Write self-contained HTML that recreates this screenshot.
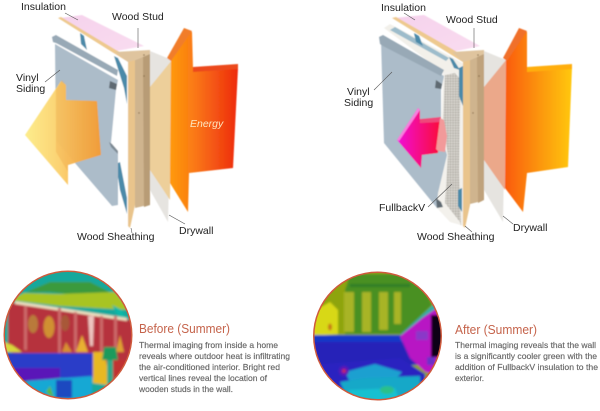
<!DOCTYPE html>
<html><head><meta charset="utf-8"><style>
html,body{margin:0;padding:0;background:#fff;width:600px;height:411px;overflow:hidden}
svg{display:block}
text{font-family:"Liberation Sans",sans-serif}
.l{font-size:10.5px;fill:#222}
.b{font-size:8.4px;fill:#666;stroke:#666;stroke-width:.15}
.h{font-size:13px;fill:#c5644c}
</style></head><body>
<svg width="600" height="411" viewBox="0 0 600 411" xmlns="http://www.w3.org/2000/svg">
<defs>
<linearGradient id="r1" x1="0" x2="1" y1="0" y2="0"><stop offset="0" stop-color="#ff9a0a"/><stop offset=".35" stop-color="#fa7a14"/><stop offset="1" stop-color="#ee2a10"/></linearGradient>
<linearGradient id="y1" x1="0" x2="1" y1="0" y2="0"><stop offset="0" stop-color="#fdec86"/><stop offset=".45" stop-color="#fbd06c"/><stop offset="1" stop-color="#f59a30"/></linearGradient>
<linearGradient id="r2" x1="0" x2="1" y1="0" y2="0"><stop offset="0" stop-color="#fa5a0e"/><stop offset=".5" stop-color="#fc9408"/><stop offset="1" stop-color="#ffc808"/></linearGradient>
<linearGradient id="m" x1="0" x2="1" y1="0" y2="0"><stop offset="0" stop-color="#f010d8"/><stop offset="1" stop-color="#fa0a3c"/></linearGradient>
<linearGradient id="ins" x1="0" x2="1" y1="0" y2="1"><stop offset="0" stop-color="#f6d2ec"/><stop offset="1" stop-color="#f9dcf0"/></linearGradient>
<clipPath id="c1"><circle cx="68" cy="335" r="63"/></clipPath>
<clipPath id="c2"><circle cx="377.5" cy="336" r="63"/></clipPath>
<filter id="bl" x="-10%" y="-10%" width="120%" height="120%"><feGaussianBlur stdDeviation="1.1"/></filter>
<filter id="s" x="-5%" y="-5%" width="110%" height="110%"><feGaussianBlur stdDeviation=".4"/></filter>
<filter id="t"><feGaussianBlur stdDeviation=".25"/></filter>
<pattern id="foam" width="2.6" height="2.6" patternUnits="userSpaceOnUse"><rect width="2.6" height="2.6" fill="#c9c6bf"/><rect x=".2" y=".2" width="1" height="1" fill="#a5a199"/><rect x="1.4" y="1.4" width="1" height="1" fill="#e6e4de"/></pattern>
</defs>

<!-- LEFT wall -->
<g filter="url(#s)">
<polygon points="60,18 82,15 144,46 116,51" fill="url(#ins)"/>
<polygon points="58,18 61,17 116,50 135,60 131,64 115,54" fill="#eec98f"/>
<polygon points="57,21 115,54 128,62 128,226 119,207 57,140" fill="#fff"/>
<g fill="#4b8aa9"><polygon points="80,33 84,36 87,50 81,44"/><polygon points="114,56 118,58 127,76 127,104 124,88"/><polygon points="116,164 120,162 127,198 127,214 120,190"/></g>
<polygon points="55,44 118,80 116,90 111,143 118,151 118,205 112,206 56,141" fill="#acbcc9"/>
<polygon points="52,37 56,35 118,70 117,76 56,43 53,42" fill="#98a9b6"/>
<polygon points="110,81 117,84 116,90 109,88" fill="#5f6a72"/>
<polygon points="109,142 112,144 118,151 118,154 111,147" fill="#7e8a94"/>
<polygon points="128,62 135,60 135,205 130,228 128,226" fill="#e9c48c"/>
<polygon points="115,52 150,50 150,54 135,60 128,62" fill="#dfc49e"/>
<polygon points="135,60 150,54 150,180 148,205 135,208" fill="#cfb48e"/>
<polygon points="143,57 150,54 150,205 144,207" fill="#b89c76"/>
<g fill="#8a6f4d"><circle cx="144" cy="55" r=".8"/><circle cx="144" cy="76" r=".8"/><circle cx="139" cy="113" r=".7"/></g>
<polygon points="150,51 172,60 168,222 150,190" fill="#e6e4e0"/>
<polygon points="150,87 172,60 170,200 150,170" fill="#edcf9a"/>
<polygon points="171,60 185,30 192,32 193,68 238,68 233,168 189,173 188,212 170,183" fill="url(#r1)"/>
<polygon points="167,58 184,28 192,31 171,61" fill="#f17d2a"/>
<polygon points="193,67 238,64 238,69 193,72" fill="#ec4a1c"/>
<polygon points="25,135 61,81 66,85 66,100 97,101 101,155 68,165 68,185" fill="url(#y1)" fill-opacity=".95"/>
<polygon points="56,90 62,80 66,85 66,100 97,101 101,155 68,165 68,172 56,152" fill="#f0a040" fill-opacity=".3"/>
</g>
<g stroke="#555" stroke-width=".6" fill="none">
<path d="M65,13 L78,20"/><path d="M138,28 L138,48"/><path d="M45,82 L60,70"/><path d="M131,228 L132,233"/><path d="M169,215 L185,224"/>
</g>
<g filter="url(#t)">
<text class="l" x="21" y="10">Insulation</text>
<text class="l" x="112" y="20">Wood Stud</text>
<text class="l" x="16" y="81">Vinyl</text>
<text class="l" x="16" y="92">Siding</text>
<text x="190" y="127" font-size="10.5" font-style="italic" fill="#fde6c0">Energy</text>
<text class="l" x="77" y="240">Wood Sheathing</text>
<text class="l" x="179" y="234">Drywall</text>
</g>

<!-- RIGHT wall -->
<g filter="url(#s)">
<polygon points="394,18 424,15 480,46 452,52" fill="url(#ins)"/>
<polygon points="392,18 396,17 452,49 470,60 466,64 450,54" fill="#eec98f"/>
<polygon points="384,28 390,24 450,56 464,64 464,80 455,72 443,72" fill="#f2f0ea"/>
<polygon points="390,30 395,27 449,58 446,61" fill="#9dbccb"/>
<polygon points="443,72 455,72 464,80 464,226 450,222 437,208 438,193 447,155 441,135" fill="#f3f1ec"/>
<polygon points="445,75 455,73 461,80 460,110 459,170 461,226 460,222 445,203 448,155 443,123" fill="url(#foam)"/>
<g fill="#4b8aa9"><polygon points="414,33 419,36 423,46 416,42"/><polygon points="449,57 453,59 460,70 454,68"/><polygon points="459,68 463,66 463,106 459,96"/><polygon points="458,190 462,188 462,212 458,206"/></g>
<polygon points="381,40 444,76 441,90 441,135 447,155 438,193 437,208 384,143" fill="#acbcc9"/>
<polygon points="379,37 383,35 444,70 441,76 383,46 380,44" fill="#98a9b6"/>
<polygon points="436,80 442,84 441,89 435,88" fill="#5f6a72"/>
<polygon points="436,198 441,202 443,207 437,208" fill="#5f6a72"/>
<polygon points="463,62 470,60 470,205 465,228 463,226" fill="#e9c48c"/>
<polygon points="452,52 484,50 484,54 470,60 463,62" fill="#dfc49e"/>
<polygon points="470,60 484,54 484,186 482,201 470,204" fill="#cfb48e"/>
<polygon points="477,57 484,54 484,200 478,203" fill="#bfa27b"/>
<g fill="#8a6f4d"><circle cx="478" cy="55" r=".8"/><circle cx="479" cy="76" r=".8"/><circle cx="473" cy="113" r=".7"/></g>
<polygon points="484,51 506,60 503,222 484,190" fill="#e6e4e0"/>
<polygon points="484,87 506,60 505,190 484,160" fill="#eba88a"/>
<polygon points="506,60 520,29 527,32 527,68 572,67 568,167 527,173 523,212 505,188" fill="url(#r2)"/>
<polygon points="503,58 519,28 527,31 507,61" fill="#f0702a"/>
<polygon points="527,67 572,64 572,69 527,72" fill="#ffae10"/>
<polygon points="397,140 418,108 420,110 420,119 440,119 438,153 422,155 421,168" fill="url(#m)"/>
<polygon points="397,140 418,108 420,110 399,141" fill="#f77fe0"/>
<polygon points="420,119 441,117 441,122 420,123" fill="#ee4a7a"/>
<polygon points="440,118 444,120 447,136 445,152 438,151 436,149" fill="#f29a9a"/>
</g>
<g stroke="#555" stroke-width=".6" fill="none">
<path d="M404,13 L415,20"/><path d="M474,28 L474,48"/><path d="M374,90 L392,72"/><path d="M428,207 L452,184"/><path d="M465,226 L472,232"/><path d="M503,216 L513,224"/>
</g>
<g filter="url(#t)">
<text class="l" x="381" y="11">Insulation</text>
<text class="l" x="446" y="23">Wood Stud</text>
<text class="l" x="347" y="95">Vinyl</text>
<text class="l" x="344" y="106">Siding</text>
<text class="l" x="379" y="211">FullbackV</text>
<text class="l" x="417" y="240">Wood Sheathing</text>
<text class="l" x="513" y="231">Drywall</text>
</g>

<!-- Thermal 1 -->
<circle cx="68" cy="335" r="64.5" fill="#cf5a3c"/>
<g clip-path="url(#c1)"><g filter="url(#bl)">
<rect x="0" y="268" width="136" height="134" fill="#12a89c"/>
<polygon points="26,292 50,282 90,282 110,292 90,296 50,292" fill="#3a9a3c"/>
<polygon points="10,300 24,293 60,294 115,292 130,310 60,306" fill="#a8c420"/>
<polygon points="112,305 122,310 126,318 118,316" fill="#10b8a8"/>
<polygon points="8,302 132,320 136,372 8,352" fill="#b6333c"/>
<polygon points="15,301 127,318 127,321 15,304" fill="#eee0c0"/>
<g fill="#cc6a6a"><rect x="24" y="306" width="3" height="44"/><rect x="58" y="308" width="3" height="50"/><rect x="74" y="312" width="3" height="40"/><rect x="100" y="316" width="3" height="36"/><rect x="114" y="316" width="3" height="36"/></g>
<polygon points="88,316 94,316 93,346 90,346" fill="#eec4c0"/>
<ellipse cx="33" cy="324" rx="5" ry="9" fill="#b97a3a"/><ellipse cx="49" cy="327" rx="5.5" ry="11" fill="#d09030"/><ellipse cx="65" cy="323" rx="4.5" ry="8" fill="#a85838"/>
<polygon points="76,352 82,335 88,352" fill="#e8b030"/><polygon points="62,352 66,342 72,352" fill="#d89030"/><polygon points="116,352 120,335 124,352" fill="#e0a030"/>
<polygon points="4,342 12,345 22,352 6,352" fill="#d8d83a"/>
<polygon points="4,353 95,353 95,378 60,378 30,382 8,375" fill="#2a3ec8"/>
<polygon points="8,368 60,368 60,378 20,382 8,378" fill="#5a18b8"/>
<polygon points="26,381 92,376 92,402 40,402" fill="#12a8d4"/>
<rect x="56" y="380" width="16" height="18" fill="#1c48c0"/>
<polygon points="93,352 104,352 108,370 108,385 93,383" fill="#e8b820"/>
<polygon points="104,347 116,347 118,360 102,360" fill="#1c9a5c"/>
<rect x="107" y="360" width="6" height="24" fill="#2ea888"/>
<polygon points="113,360 136,360 136,375 122,388 113,384" fill="#c03030"/>
<polygon points="46,392 50,386 54,398" fill="#5ab83c"/>
</g></g>
<!-- Thermal 2 -->
<circle cx="377.5" cy="336" r="64.5" fill="#cf5a3c"/>
<g clip-path="url(#c2)"><g filter="url(#bl)">
<rect x="310" y="268" width="136" height="134" fill="#8ea410"/>
<polygon points="350,274 400,274 425,290 432,305 402,334 345,334 345,290" fill="#4a9020"/>
<g fill="#a8b428"><rect x="344" y="292" width="10" height="40"/><rect x="362" y="292" width="9" height="40"/><rect x="379" y="292" width="9" height="38"/><rect x="394" y="292" width="7" height="32"/></g>
<rect x="350" y="284" width="60" height="3" fill="#2f7e28"/>
<polygon points="312,312 330,302 338,310 338,334 312,336" fill="#d8d814"/>
<ellipse cx="330" cy="327" rx="2" ry="3.5" fill="#c87818"/>
<polygon points="400,335 432,306 442,300 446,304 420,335" fill="#22b0a8"/>
<rect x="310" y="335" width="110" height="30" fill="#2820b8"/>
<rect x="312" y="335" width="92" height="7" fill="#1838c8"/>
<polygon points="400,336 422,318 435,309 445,312 445,378 425,372 410,358" fill="#b814c4"/>
<rect x="431" y="315" width="13" height="42" fill="#0c0418"/>
<rect x="416" y="331" width="12" height="9" fill="#8a38c8"/>
<rect x="427" y="357" width="8" height="8" fill="#6a30c8"/>
<polygon points="312,365 400,358 425,374 425,404 340,404" fill="#2a24c0"/>
<polygon points="345,372 375,364 402,372 395,380 350,382" fill="#1ca0d0"/>
<polygon points="340,382 365,378 420,376 420,404 350,404" fill="#12a8c8"/>
<polygon points="348,390 395,388 400,402 360,404" fill="#18c0d0"/>
<ellipse cx="344" cy="371" rx="5" ry="5" fill="#5a18b8"/><circle cx="344" cy="371" r="2" fill="#c02868"/>
<ellipse cx="387" cy="390" rx="7" ry="4" fill="#2ac08a"/>
</g></g>

<g filter="url(#t)">
<text class="h" x="139" y="333" textLength="91" lengthAdjust="spacingAndGlyphs">Before (Summer)</text>
<text class="b" x="139" y="348" textLength="139" lengthAdjust="spacingAndGlyphs">Thermal imaging from inside a home</text>
<text class="b" x="139" y="359" textLength="151" lengthAdjust="spacingAndGlyphs">reveals where outdoor heat is infiltrating</text>
<text class="b" x="139" y="370" textLength="141" lengthAdjust="spacingAndGlyphs">the air-conditioned interior. Bright red</text>
<text class="b" x="139" y="381" textLength="128" lengthAdjust="spacingAndGlyphs">vertical lines reveal the location of</text>
<text class="b" x="139" y="392" textLength="94" lengthAdjust="spacingAndGlyphs">wooden studs in the wall.</text>

<text class="h" x="455" y="334" textLength="82" lengthAdjust="spacingAndGlyphs">After (Summer)</text>
<text class="b" x="455" y="348" textLength="141" lengthAdjust="spacingAndGlyphs">Thermal imaging reveals that the wall</text>
<text class="b" x="455" y="359" textLength="142" lengthAdjust="spacingAndGlyphs">is a significantly cooler green with the</text>
<text class="b" x="455" y="370" textLength="143" lengthAdjust="spacingAndGlyphs">addition of FullbackV insulation to the</text>
<text class="b" x="455" y="381" textLength="29" lengthAdjust="spacingAndGlyphs">exterior.</text>
</g>
</svg>
</body></html>
